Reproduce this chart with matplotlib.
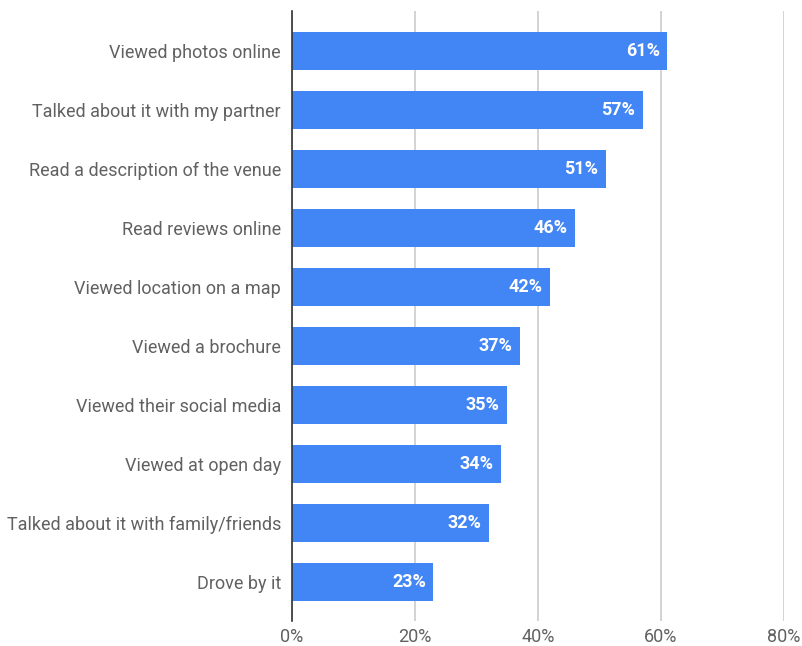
import matplotlib.pyplot as plt
import numpy as np

categories = [
    "Viewed photos online",
    "Talked about it with my partner",
    "Read a description of the venue",
    "Read reviews online",
    "Viewed location on a map",
    "Viewed a brochure",
    "Viewed their social media",
    "Viewed at open day",
    "Talked about it with family/friends",
    "Drove by it",
]
values = [61, 57, 51, 46, 42, 37, 35, 34, 32, 23]
xticks = [0, 20, 40, 60, 80]

plt.rcParams['font.family'] = ['Roboto', 'DejaVu Sans']

fig = plt.figure(figsize=(8.02, 6.46), dpi=100)
ax = fig.add_axes([292/802, 25/646, 492/802, 610/646])

y = np.arange(len(categories))
bars = ax.barh(y, values, height=0.645, color='#4285F4', zorder=3)

for b, v in zip(bars, values):
    ax.text(b.get_width() - 1.2, b.get_y() + b.get_height()/2, f"{v}%",
            ha='right', va='center', color='white', fontsize=13,
            fontweight='bold', zorder=4)

ax.set_ylim(len(categories) - 0.34, -0.68)
ax.set_xlim(0, 80)
ax.set_yticks(y)
ax.set_yticklabels(categories, fontsize=13, color='#616161')
ax.set_xticks(xticks)
ax.set_xticklabels([f"{t}%" for t in xticks], fontsize=13, color='#616161')
ax.tick_params(axis='both', length=0)
ax.tick_params(axis='y', pad=8)
ax.tick_params(axis='x', pad=5)

ax.grid(axis='x', color='#cccccc', linewidth=1.2, zorder=0)
for s in ['top', 'right', 'bottom']:
    ax.spines[s].set_visible(False)
ax.spines['left'].set_color('#333333')
ax.spines['left'].set_linewidth(1.2)
ax.spines['left'].set_zorder(5)

fig.savefig("out.png", dpi=100)
